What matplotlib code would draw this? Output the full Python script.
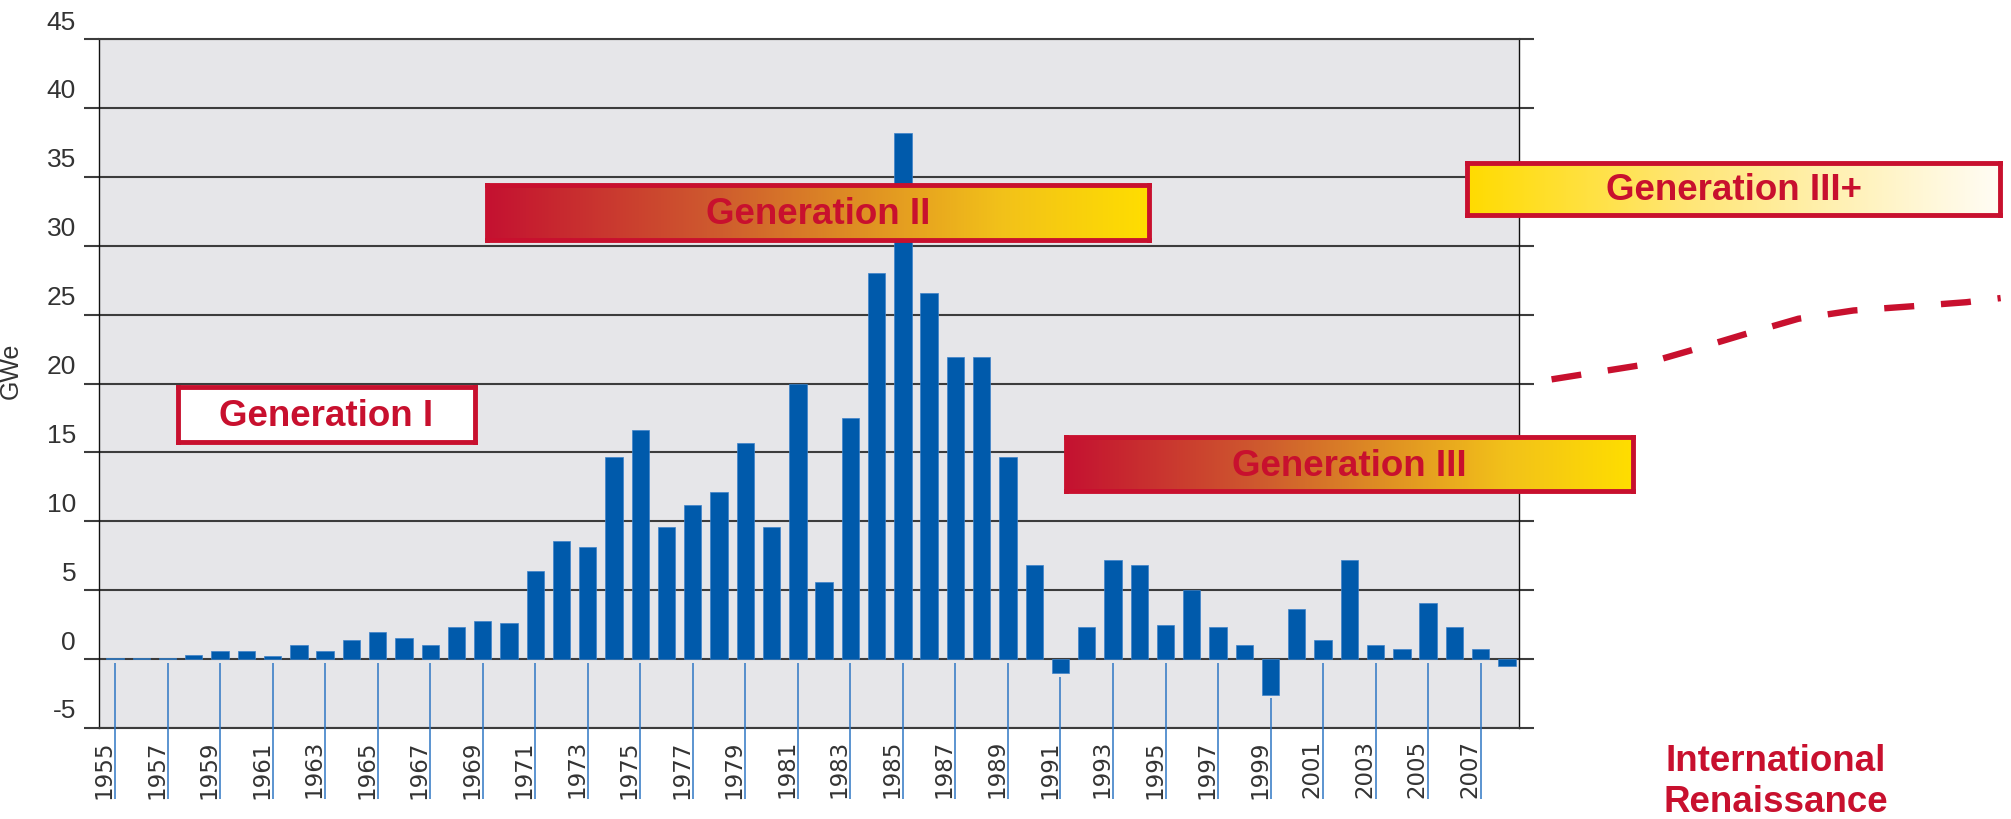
import matplotlib
matplotlib.use("Agg")
import matplotlib.pyplot as plt
import matplotlib.transforms as mtransforms
from matplotlib.colors import LinearSegmentedColormap
import numpy as np

# annual net nuclear capacity additions (GWe)
years = list(range(1955, 2009))
gwe = [0.05, 0.05, 0.05, 0.27, 0.56, 0.56, 0.24, 1.04, 0.56, 1.38,
       2.0, 1.53, 1.04, 2.33, 2.8, 2.65, 6.36, 8.6, 8.1, 14.7,
       16.65, 9.56, 11.2, 12.1, 15.7, 9.56, 20.0, 5.56, 17.5, 28.0,
       38.2, 26.6, 21.9, 21.9, 14.7, 6.84, -1.04, 2.33, 7.16, 6.84,
       2.5, 5.05, 2.33, 1.04, -2.6, 3.6, 1.36, 7.16, 1.04, 0.75,
       4.1, 2.33, 0.75, -0.53]
label_years = years[::2]

# dashed projection to the right of the chart
proj_years = [2009.7, 2013.0, 2015.0, 2017.1, 2019.1, 2021.2, 2023.4, 2025.5, 2026.8]
proj_gwe = [20.3, 21.3, 22.4, 23.6, 24.7, 25.3, 25.6, 25.9, 26.2]

gen_labels = ["Generation I", "Generation II", "Generation III", "Generation III+"]

RED = "#c8102e"
BLUE = "#005aab"
GRID = "#3c3c3c"
W, H = 2011, 820

plt.rcParams['font.family'] = ['Liberation Sans', 'DejaVu Sans']
plt.rcParams['axes.unicode_minus'] = False

fig = plt.figure(figsize=(W / 100, H / 100), dpi=100)
ax = fig.add_axes([99 / W, 1 - 729 / H, 1420 / W, 689 / H])
ax.set_facecolor("#e6e6e9")

ax.bar(years, gwe, width=0.66, color=BLUE, edgecolor="#3d82c9", linewidth=0.5, zorder=2)

ax.set_xlim(1954.39, 2008.46)
ax.set_ylim(-5, 45)
ax.set_yticks(range(-5, 50, 5))
ax.yaxis.grid(True, color=GRID, linewidth=1.5)
ax.set_axisbelow(True)
ax.tick_params(axis='y', left=True, right=True, direction='out', length=10.5,
               width=1.5, color=GRID, labelsize=19, labelcolor="#333333", pad=6)
for lab in ax.get_yticklabels():
    lab.set_family(['Liberation Sans Narrow', 'Liberation Sans'])

ax.set_xticks(label_years)
ax.set_xticklabels([str(y) for y in label_years], rotation=90, fontsize=16.5,
                   color="#333333", family='DejaVu Sans')
ax.tick_params(axis='x', length=0, pad=8)

for s in ['top', 'bottom']:
    ax.spines[s].set_color(GRID)
    ax.spines[s].set_linewidth(1.5)
for s in ['left', 'right']:
    ax.spines[s].set_color("#111111")
    ax.spines[s].set_linewidth(1.0)

# shift tick labels like in the original layout
up = mtransforms.ScaledTranslation(0, 0.20, fig.dpi_scale_trans)
for lab in ax.yaxis.get_majorticklabels():
    lab.set_transform(lab.get_transform() + up)
left = mtransforms.ScaledTranslation(-0.11, 0, fig.dpi_scale_trans)
for lab in ax.xaxis.get_majorticklabels():
    lab.set_transform(lab.get_transform() + left)

# blue tick lines under the bars
vals = dict(zip(years, gwe))
tops = [min(vals[y], 0) - 0.25 for y in label_years]
ax.vlines(label_years, tops, -10.15, colors="#2f77c4", linewidth=1.1, clip_on=False, zorder=3)

ax.set_ylabel("GWe", fontsize=18, color="#333333")
ax.yaxis.set_label_coords(-0.054, 0.52)

ax.plot(proj_years, proj_gwe, color=RED, linewidth=4.6, linestyle=(0, (4.7, 4.2)),
        clip_on=False, solid_capstyle='butt', dash_capstyle='butt')

warm = LinearSegmentedColormap.from_list("warm", [
    (0.0, (0.77, 0.07, 0.19)), (0.35, (0.81, 0.36, 0.18)),
    (0.55, (0.87, 0.55, 0.14)), (0.78, (0.95, 0.76, 0.10)),
    (1.0, (1.0, 0.87, 0.0))])
pale = LinearSegmentedColormap.from_list("pale", [
    (0.0, (1.0, 0.86, 0.0)), (0.4, (1.0, 0.9, 0.45)),
    (1.0, (1.0, 0.99, 0.96))])


def gen_box(rect, text, cmap):
    x0, y0, x1, y1 = rect
    bax = fig.add_axes([x0 / W, 1 - y1 / H, (x1 - x0) / W, (y1 - y0) / H])
    if cmap is not None:
        bax.imshow(np.linspace(0, 1, 256)[None, :], aspect='auto', cmap=cmap,
                   extent=[0, 1, 0, 1])
    else:
        bax.set_facecolor("white")
    bax.set_xlim(0, 1)
    bax.set_ylim(0, 1)
    bax.set_xticks([])
    bax.set_yticks([])
    for s in bax.spines.values():
        s.set_color(RED)
        s.set_linewidth(3.5)
    bax.text(0.5, 0.3, text, ha='center', va='baseline', color=RED,
             fontsize=26.5, fontweight='bold')


gen_box((178, 388, 475, 443), gen_labels[0], None)
gen_box((487, 186, 1149, 241), gen_labels[1], warm)
gen_box((1066, 438, 1633, 492), gen_labels[2], warm)
gen_box((1467, 164, 2000, 216), gen_labels[3], pale)

fig.text(1776 / W, 1 - 771 / H, "International", ha='center', va='baseline',
         color=RED, fontsize=26.5, fontweight='bold')
fig.text(1776 / W, 1 - 812 / H, "Renaissance", ha='center', va='baseline',
         color=RED, fontsize=26.5, fontweight='bold')

fig.savefig("out.png", dpi=100, facecolor="white")
